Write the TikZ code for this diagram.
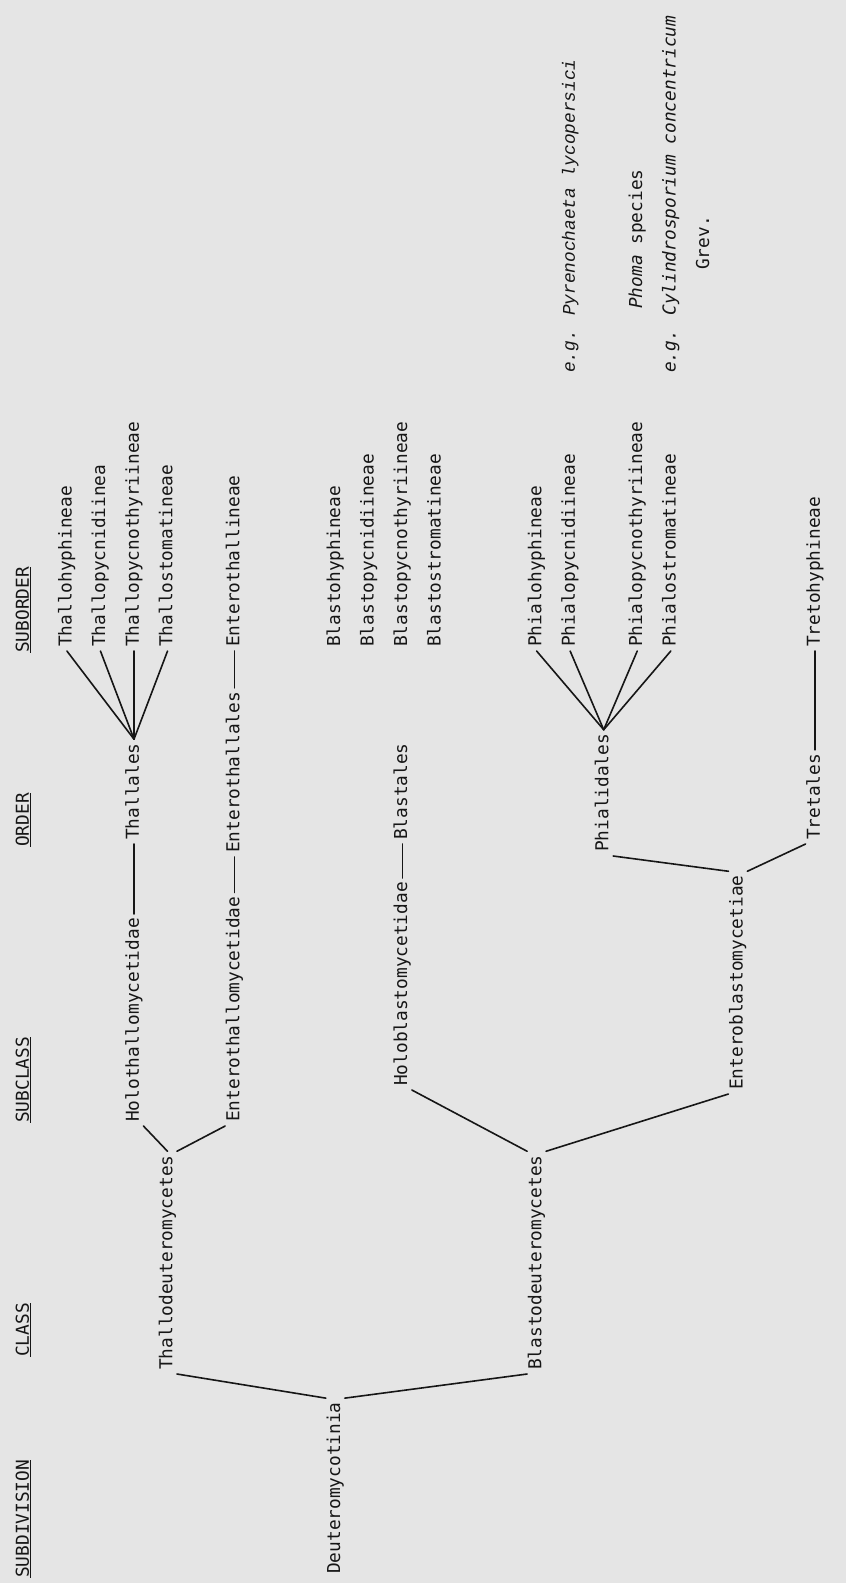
\documentclass[tikz,border=0pt]{standalone}
\usepackage{fontspec}
\setmainfont{DejaVu Sans Mono}
\newfontfamily\exfont{Liberation Mono}
\definecolor{bg}{RGB}{229,229,229}
\definecolor{ink}{RGB}{22,22,22}
\begin{document}
\begin{tikzpicture}[x=1pt,y=-1pt,
  lbl/.style={rotate=90, anchor=west, inner xsep=4pt, inner ysep=1pt,
    text height=13pt, text depth=3.5pt,
    font=\fontsize{17.8}{20}\selectfont, text=ink},
  exlbl/.style={lbl, font=\fontsize{17.8}{20}\selectfont\exfont\itshape},
  conn/.style={draw=ink, line width=1.6pt, line cap=round}]
\useasboundingbox (0,0) rectangle (846,1583);
\fill[bg] (0,0) rectangle (846,1583);

% headers
\node[lbl] (hsub)  at (24,1582) {\underline{SUBDIVISION}};
\node[lbl] (hcls)  at (24,1361) {\underline{CLASS}};
\node[lbl] (hscl)  at (24,1127) {\underline{SUBCLASS}};
\node[lbl] (hord)  at (24,851)  {\underline{ORDER}};
\node[lbl] (hsor)  at (24,657)  {\underline{SUBORDER}};

% subdivision / classes
\node[lbl] (deut)   at (335.3,1578) {Deuteromycotinia};
\node[lbl] (thdeut) at (167.5,1374) {Thallodeuteromycetes};
\node[lbl] (bldeut) at (536.6,1374) {Blastodeuteromycetes};

% subclasses
\node[lbl] (hoth) at (134,1126)   {Holothallomycetidae};
\node[lbl] (enth) at (234.6,1126) {Enterothallomycetidae};
\node[lbl] (hobl) at (402.4,1090) {Holoblastomycetidae};
\node[lbl] (enbl) at (737.9,1094) {Enteroblastomycetiae};

% orders
\node[lbl] (thal)  at (134,844)   {Thallales};
\node[lbl] (entha) at (234.6,857) {Enterothallales};
\node[lbl] (blal)  at (402.4,844) {Blastales};
\node[lbl] (phal)  at (603.7,856) {Phialidales};
\node[lbl] (tral)  at (815,844)   {Tretales};

% suborders
\node[lbl] (th1) at (66.9,651)   {Thallohyphineae};
\node[lbl] (th2) at (100.45,651) {Thallopycnidiinea};
\node[lbl] (th3) at (134,651)    {Thallopycnothyriineae};
\node[lbl] (th4) at (167.55,651) {Thallostomatineae};
\node[lbl] (enthi) at (234.6,651) {Enterothallineae};
\node[lbl] (bl1) at (335.3,651)  {Blastohyphineae};
\node[lbl] (bl2) at (368.85,651) {Blastopycnidiineae};
\node[lbl] (bl3) at (402.4,651)  {Blastopycnothyriineae};
\node[lbl] (bl4) at (435.95,651) {Blastostromatineae};
\node[lbl] (ph1) at (536.6,651)  {Phialohyphineae};
\node[lbl] (ph2) at (570.15,651) {Phialopycnidiineae};
\node[lbl] (ph3) at (637.25,651) {Phialopycnothyriineae};
\node[lbl] (ph4) at (670.8,651)  {Phialostromatineae};
\node[lbl] (trhy) at (815,651)   {Tretohyphineae};

% examples
\node[exlbl] (pyr) at (570.15,377) {e.g. Pyrenochaeta lycopersici};
\node[lbl] (phoma) at (637.25,313) {\textit{Phoma} species};
\node[lbl] (cyl) at (670.8,377) {\textit{e.g. Cylindrosporium concentricum}};
\node[lbl] (grev) at (704.35,274) {Grev.};

% connectors
\draw[conn] (deut.north east) -- (thdeut.south west);
\draw[conn] (deut.south east) -- (bldeut.north west);
\draw[conn] (thdeut.east) -- (hoth.south west);
\draw[conn] (thdeut.south east) -- (enth.north west);
\draw[conn] (hoth.east) -- (thal.west);
\draw[conn] (enth.east) -- (entha.west);
\draw[conn] (entha.east) -- (enthi.west);
\foreach \n in {th1,th2,th3,th4} \draw[conn] (thal.east) -- (\n.west);
\draw[conn] (bldeut.north east) -- (hobl.south west);
\draw[conn] (bldeut.south east) -- (enbl.north west);
\draw[conn] (hobl.east) -- (blal.west);
\draw[conn] (enbl.north east) -- (phal.south west);
\draw[conn] (enbl.south east) -- (tral.north west);
\draw[conn] (tral.east) -- (trhy.west);
\foreach \n in {ph1,ph2,ph3,ph4} \draw[conn] (phal.east) -- (\n.west);
\end{tikzpicture}
\end{document}
